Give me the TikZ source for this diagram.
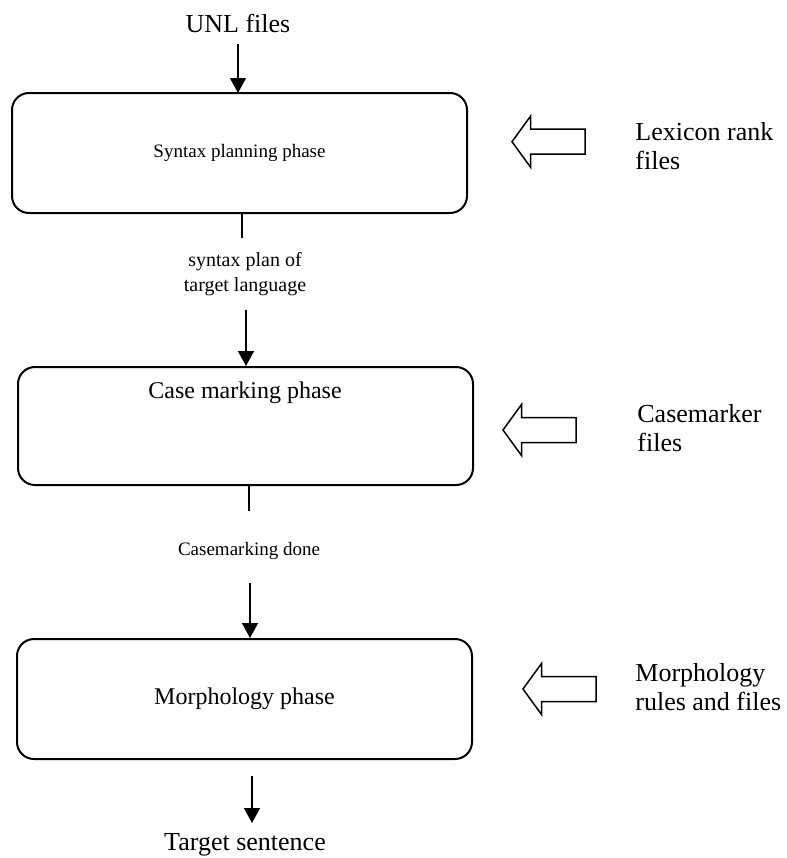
\documentclass[tikz,border=0pt]{standalone}
\usepackage{fontspec}
\setmainfont{Liberation Serif}
\usetikzlibrary{arrows.meta}
\begin{document}
\begin{tikzpicture}[x=0.5pt,y=-0.5pt,
  phase/.style={draw, line width=1pt, rounded corners=8.5pt,
    minimum width=227.5pt, minimum height=60pt, inner sep=0pt},
  flow/.style={line width=0.75pt, -{Triangle[width=8pt,length=7.5pt]}},
  stub/.style={line width=0.75pt},
  lbl/.style={font=\fontsize{13}{14.2}\selectfont, inner sep=0pt, align=left, anchor=west},
  note/.style={font=\fontsize{10}{12.5}\selectfont, inner sep=0pt, align=center},
  term/.style={font=\fontsize{13}{15}\selectfont, inner sep=0pt},
  resource/.pic={
    \draw[line width=0.75pt, line join=miter]
      (0,0) -- (18.5,-25.5) -- (18.5,-12.5) -- (73,-12.5) -- (73,12.5)
      -- (18.5,12.5) -- (18.5,25.5) -- cycle;
  }
]
\useasboundingbox (0,0) rectangle (787,858);

% input and the three phases
\node[term] (unl) at (238,23) {UNL files};

\node[phase, font=\fontsize{9.5}{11}\selectfont] (syn) at (239.5,153) {Syntax planning phase};
\node[phase, minimum height=59pt] (case) at (245.5,426) {};
\node[font=\fontsize{12}{14}\selectfont, inner sep=0pt] (casetext) at (245,393) {Case marking phase};
\node[phase, font=\fontsize{12}{14}\selectfont] (morph) at (244.5,699) {Morphology phase};

\node[term] (target) at (245,845) {Target sentence};

% intermediate results
\node[note] (splan) at (245,274) {syntax plan of\\target language};
\node[note, font=\fontsize{9.5}{12}\selectfont] (cdone) at (249,551) {Casemarking done};

% vertical flow
\draw[flow] (unl.south -| 238,0) ++(0,11) -- (238,93);
\coordinate (s1) at (242,238);
\draw[stub] (syn.south -| s1) -- (s1);
\draw[flow] (246,310) -- (case.north -| 246,0);
\coordinate (s2) at (249,511);
\draw[stub] (case.south -| s2) -- (s2);
\draw[flow] (250,583) -- (morph.north -| 250,0);
\coordinate (t0) at (252,776);
\draw[flow] (t0) -- (252,823);

% resource files feeding each phase
\pic at (512,141.7) {resource};
\node[lbl] (lex) at (635,146) {Lexicon rank\\files};
\pic at (503,430) {resource};
\node[lbl] (casef) at (637,428) {Casemarker\\files};
\pic at (523,689) {resource};
\node[lbl] (morphf) at (635,687) {Morphology\\rules and files};
\end{tikzpicture}
\end{document}
